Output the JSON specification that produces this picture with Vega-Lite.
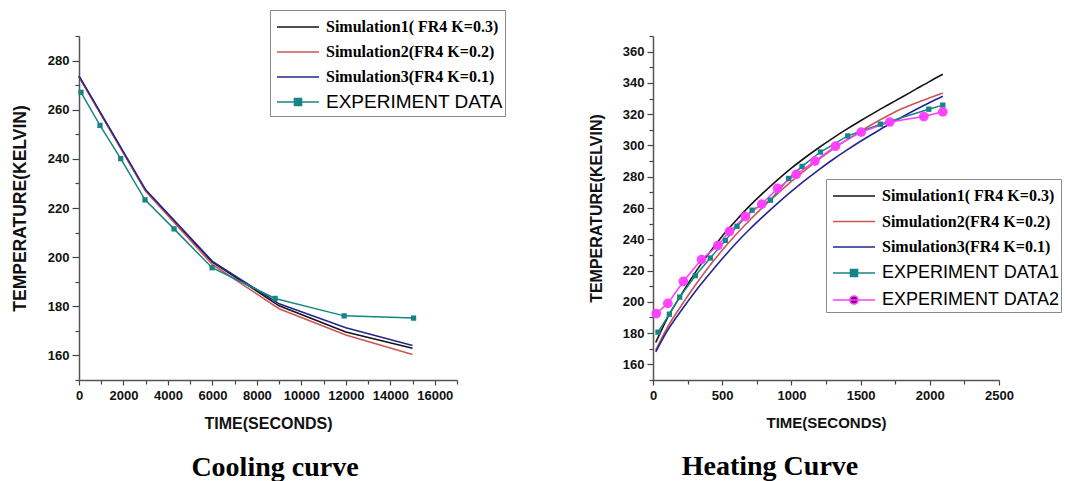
{
  "$schema": "https://vega.github.io/schema/vega-lite/v6.json",
  "padding": {"left": 11, "top": 9, "right": 0, "bottom": 0},
  "spacing": 196,
  "bounds": "flush",
  "datasets": {
    "cool": [
      {"kind": "sim", "series": "Simulation1( FR4 K=0.3)", "t": 0, "T": 273.5},
      {"kind": "sim", "series": "Simulation1( FR4 K=0.3)", "t": 3000, "T": 227.0},
      {"kind": "sim", "series": "Simulation1( FR4 K=0.3)", "t": 6000, "T": 198.0},
      {"kind": "sim", "series": "Simulation1( FR4 K=0.3)", "t": 9000, "T": 180.2},
      {"kind": "sim", "series": "Simulation1( FR4 K=0.3)", "t": 12000, "T": 169.5},
      {"kind": "sim", "series": "Simulation1( FR4 K=0.3)", "t": 15000, "T": 162.9},
      {"kind": "sim", "series": "Simulation2(FR4 K=0.2)", "t": 0, "T": 273.5},
      {"kind": "sim", "series": "Simulation2(FR4 K=0.2)", "t": 3000, "T": 226.8},
      {"kind": "sim", "series": "Simulation2(FR4 K=0.2)", "t": 6000, "T": 197.0},
      {"kind": "sim", "series": "Simulation2(FR4 K=0.2)", "t": 9000, "T": 179.0},
      {"kind": "sim", "series": "Simulation2(FR4 K=0.2)", "t": 12000, "T": 168.3},
      {"kind": "sim", "series": "Simulation2(FR4 K=0.2)", "t": 15000, "T": 160.4},
      {"kind": "sim", "series": "Simulation3(FR4 K=0.1)", "t": 0, "T": 273.8},
      {"kind": "sim", "series": "Simulation3(FR4 K=0.1)", "t": 3000, "T": 227.4},
      {"kind": "sim", "series": "Simulation3(FR4 K=0.1)", "t": 6000, "T": 198.3},
      {"kind": "sim", "series": "Simulation3(FR4 K=0.1)", "t": 9000, "T": 181.0},
      {"kind": "sim", "series": "Simulation3(FR4 K=0.1)", "t": 12000, "T": 171.3},
      {"kind": "sim", "series": "Simulation3(FR4 K=0.1)", "t": 15000, "T": 164.0},
      {"kind": "exp", "series": "EXPERIMENT DATA", "t": 90, "T": 267.1},
      {"kind": "exp", "series": "EXPERIMENT DATA", "t": 945, "T": 253.6},
      {"kind": "exp", "series": "EXPERIMENT DATA", "t": 1875, "T": 240.1},
      {"kind": "exp", "series": "EXPERIMENT DATA", "t": 2970, "T": 223.3},
      {"kind": "exp", "series": "EXPERIMENT DATA", "t": 4275, "T": 211.5},
      {"kind": "exp", "series": "EXPERIMENT DATA", "t": 5985, "T": 195.7},
      {"kind": "exp", "series": "EXPERIMENT DATA", "t": 8820, "T": 183.2},
      {"kind": "exp", "series": "EXPERIMENT DATA", "t": 11925, "T": 176.1},
      {"kind": "exp", "series": "EXPERIMENT DATA", "t": 15045, "T": 175.2}
    ],
    "heat": [
      {"kind": "sim", "series": "Simulation1( FR4 K=0.3)", "t": 20, "T": 174},
      {"kind": "sim", "series": "Simulation1( FR4 K=0.3)", "t": 100, "T": 189},
      {"kind": "sim", "series": "Simulation1( FR4 K=0.3)", "t": 200, "T": 204},
      {"kind": "sim", "series": "Simulation1( FR4 K=0.3)", "t": 300, "T": 218},
      {"kind": "sim", "series": "Simulation1( FR4 K=0.3)", "t": 400, "T": 230.5},
      {"kind": "sim", "series": "Simulation1( FR4 K=0.3)", "t": 500, "T": 242},
      {"kind": "sim", "series": "Simulation1( FR4 K=0.3)", "t": 600, "T": 252},
      {"kind": "sim", "series": "Simulation1( FR4 K=0.3)", "t": 700, "T": 261.5},
      {"kind": "sim", "series": "Simulation1( FR4 K=0.3)", "t": 800, "T": 270},
      {"kind": "sim", "series": "Simulation1( FR4 K=0.3)", "t": 900, "T": 278},
      {"kind": "sim", "series": "Simulation1( FR4 K=0.3)", "t": 1000, "T": 285.5},
      {"kind": "sim", "series": "Simulation1( FR4 K=0.3)", "t": 1100, "T": 292.3},
      {"kind": "sim", "series": "Simulation1( FR4 K=0.3)", "t": 1200, "T": 298.7},
      {"kind": "sim", "series": "Simulation1( FR4 K=0.3)", "t": 1300, "T": 304.7},
      {"kind": "sim", "series": "Simulation1( FR4 K=0.3)", "t": 1400, "T": 310.4},
      {"kind": "sim", "series": "Simulation1( FR4 K=0.3)", "t": 1500, "T": 315.8},
      {"kind": "sim", "series": "Simulation1( FR4 K=0.3)", "t": 1600, "T": 321},
      {"kind": "sim", "series": "Simulation1( FR4 K=0.3)", "t": 1700, "T": 326},
      {"kind": "sim", "series": "Simulation1( FR4 K=0.3)", "t": 1800, "T": 331},
      {"kind": "sim", "series": "Simulation1( FR4 K=0.3)", "t": 1900, "T": 336},
      {"kind": "sim", "series": "Simulation1( FR4 K=0.3)", "t": 2000, "T": 341},
      {"kind": "sim", "series": "Simulation1( FR4 K=0.3)", "t": 2094, "T": 345.5},
      {"kind": "sim", "series": "Simulation2(FR4 K=0.2)", "t": 20, "T": 169},
      {"kind": "sim", "series": "Simulation2(FR4 K=0.2)", "t": 100, "T": 183},
      {"kind": "sim", "series": "Simulation2(FR4 K=0.2)", "t": 200, "T": 197},
      {"kind": "sim", "series": "Simulation2(FR4 K=0.2)", "t": 300, "T": 210},
      {"kind": "sim", "series": "Simulation2(FR4 K=0.2)", "t": 400, "T": 222},
      {"kind": "sim", "series": "Simulation2(FR4 K=0.2)", "t": 500, "T": 233},
      {"kind": "sim", "series": "Simulation2(FR4 K=0.2)", "t": 600, "T": 243},
      {"kind": "sim", "series": "Simulation2(FR4 K=0.2)", "t": 700, "T": 252.3},
      {"kind": "sim", "series": "Simulation2(FR4 K=0.2)", "t": 800, "T": 261},
      {"kind": "sim", "series": "Simulation2(FR4 K=0.2)", "t": 900, "T": 269.2},
      {"kind": "sim", "series": "Simulation2(FR4 K=0.2)", "t": 1000, "T": 277},
      {"kind": "sim", "series": "Simulation2(FR4 K=0.2)", "t": 1100, "T": 284.3},
      {"kind": "sim", "series": "Simulation2(FR4 K=0.2)", "t": 1200, "T": 291.2},
      {"kind": "sim", "series": "Simulation2(FR4 K=0.2)", "t": 1300, "T": 297.6},
      {"kind": "sim", "series": "Simulation2(FR4 K=0.2)", "t": 1400, "T": 303.6},
      {"kind": "sim", "series": "Simulation2(FR4 K=0.2)", "t": 1500, "T": 309.2},
      {"kind": "sim", "series": "Simulation2(FR4 K=0.2)", "t": 1600, "T": 314.4},
      {"kind": "sim", "series": "Simulation2(FR4 K=0.2)", "t": 1700, "T": 319.2},
      {"kind": "sim", "series": "Simulation2(FR4 K=0.2)", "t": 1800, "T": 323.6},
      {"kind": "sim", "series": "Simulation2(FR4 K=0.2)", "t": 1900, "T": 327.2},
      {"kind": "sim", "series": "Simulation2(FR4 K=0.2)", "t": 2000, "T": 330.5},
      {"kind": "sim", "series": "Simulation2(FR4 K=0.2)", "t": 2094, "T": 333.5},
      {"kind": "sim", "series": "Simulation3(FR4 K=0.1)", "t": 20, "T": 168},
      {"kind": "sim", "series": "Simulation3(FR4 K=0.1)", "t": 100, "T": 181},
      {"kind": "sim", "series": "Simulation3(FR4 K=0.1)", "t": 200, "T": 194},
      {"kind": "sim", "series": "Simulation3(FR4 K=0.1)", "t": 300, "T": 206},
      {"kind": "sim", "series": "Simulation3(FR4 K=0.1)", "t": 400, "T": 217},
      {"kind": "sim", "series": "Simulation3(FR4 K=0.1)", "t": 500, "T": 227.5},
      {"kind": "sim", "series": "Simulation3(FR4 K=0.1)", "t": 600, "T": 237.5},
      {"kind": "sim", "series": "Simulation3(FR4 K=0.1)", "t": 700, "T": 246.6},
      {"kind": "sim", "series": "Simulation3(FR4 K=0.1)", "t": 800, "T": 255},
      {"kind": "sim", "series": "Simulation3(FR4 K=0.1)", "t": 900, "T": 263},
      {"kind": "sim", "series": "Simulation3(FR4 K=0.1)", "t": 1000, "T": 270.6},
      {"kind": "sim", "series": "Simulation3(FR4 K=0.1)", "t": 1100, "T": 277.8},
      {"kind": "sim", "series": "Simulation3(FR4 K=0.1)", "t": 1200, "T": 284.6},
      {"kind": "sim", "series": "Simulation3(FR4 K=0.1)", "t": 1300, "T": 291},
      {"kind": "sim", "series": "Simulation3(FR4 K=0.1)", "t": 1400, "T": 297},
      {"kind": "sim", "series": "Simulation3(FR4 K=0.1)", "t": 1500, "T": 302.7},
      {"kind": "sim", "series": "Simulation3(FR4 K=0.1)", "t": 1600, "T": 308},
      {"kind": "sim", "series": "Simulation3(FR4 K=0.1)", "t": 1700, "T": 313.2},
      {"kind": "sim", "series": "Simulation3(FR4 K=0.1)", "t": 1800, "T": 318.2},
      {"kind": "sim", "series": "Simulation3(FR4 K=0.1)", "t": 1900, "T": 323},
      {"kind": "sim", "series": "Simulation3(FR4 K=0.1)", "t": 2000, "T": 327.5},
      {"kind": "sim", "series": "Simulation3(FR4 K=0.1)", "t": 2094, "T": 331.5},
      {"kind": "exp", "series": "EXPERIMENT DATA1", "t": 36, "T": 180.6},
      {"kind": "exp", "series": "EXPERIMENT DATA1", "t": 118, "T": 192.1},
      {"kind": "exp", "series": "EXPERIMENT DATA1", "t": 193, "T": 203.0},
      {"kind": "exp", "series": "EXPERIMENT DATA1", "t": 306, "T": 216.7},
      {"kind": "exp", "series": "EXPERIMENT DATA1", "t": 414, "T": 228.0},
      {"kind": "exp", "series": "EXPERIMENT DATA1", "t": 523, "T": 239.3},
      {"kind": "exp", "series": "EXPERIMENT DATA1", "t": 607, "T": 248.3},
      {"kind": "exp", "series": "EXPERIMENT DATA1", "t": 716, "T": 258.6},
      {"kind": "exp", "series": "EXPERIMENT DATA1", "t": 848, "T": 265.0},
      {"kind": "exp", "series": "EXPERIMENT DATA1", "t": 980, "T": 278.9},
      {"kind": "exp", "series": "EXPERIMENT DATA1", "t": 1077, "T": 286.6},
      {"kind": "exp", "series": "EXPERIMENT DATA1", "t": 1210, "T": 295.8},
      {"kind": "exp", "series": "EXPERIMENT DATA1", "t": 1407, "T": 306.1},
      {"kind": "exp", "series": "EXPERIMENT DATA1", "t": 1643, "T": 313.6},
      {"kind": "exp", "series": "EXPERIMENT DATA1", "t": 1993, "T": 323.2},
      {"kind": "exp", "series": "EXPERIMENT DATA1", "t": 2094, "T": 325.8},
      {"kind": "exp", "series": "EXPERIMENT DATA2", "t": 24, "T": 192.5},
      {"kind": "exp", "series": "EXPERIMENT DATA2", "t": 107, "T": 199.0},
      {"kind": "exp", "series": "EXPERIMENT DATA2", "t": 219, "T": 213.0},
      {"kind": "exp", "series": "EXPERIMENT DATA2", "t": 350, "T": 227.0},
      {"kind": "exp", "series": "EXPERIMENT DATA2", "t": 469, "T": 236.0},
      {"kind": "exp", "series": "EXPERIMENT DATA2", "t": 552, "T": 245.0},
      {"kind": "exp", "series": "EXPERIMENT DATA2", "t": 667, "T": 254.5},
      {"kind": "exp", "series": "EXPERIMENT DATA2", "t": 786, "T": 262.5},
      {"kind": "exp", "series": "EXPERIMENT DATA2", "t": 900, "T": 272.5},
      {"kind": "exp", "series": "EXPERIMENT DATA2", "t": 1035, "T": 281.5},
      {"kind": "exp", "series": "EXPERIMENT DATA2", "t": 1170, "T": 290.0},
      {"kind": "exp", "series": "EXPERIMENT DATA2", "t": 1318, "T": 299.5},
      {"kind": "exp", "series": "EXPERIMENT DATA2", "t": 1504, "T": 308.5},
      {"kind": "exp", "series": "EXPERIMENT DATA2", "t": 1711, "T": 315.0},
      {"kind": "exp", "series": "EXPERIMENT DATA2", "t": 1957, "T": 318.5},
      {"kind": "exp", "series": "EXPERIMENT DATA2", "t": 2094, "T": 321.5}
    ]
  },
  "hconcat": [
    {
      "width": 378,
      "height": 344,
      "data": {"name": "cool"},
      "title": {"text": "Cooling curve", "orient": "bottom", "anchor": "middle", "dx": 7, "offset": 23, "font": "Liberation Serif", "fontSize": 28, "fontWeight": "bold", "color": "#000000"},
      "encoding": {
        "x": {"field": "t", "type": "quantitative", "scale": {"domain": [0, 17000], "nice": false},
          "axis": {"title": "TIME(SECONDS)", "format": "d", "values": [0,1000,2000,3000,4000,5000,6000,7000,8000,9000,10000,11000,12000,13000,14000,15000,16000,17000],
            "labelExpr": "datum.value % 2000 == 0 ? datum.label : ''",
            "tickSize": {"condition": {"test": "datum.value % 2000 == 0", "value": 5}, "value": 4},
            "labelPadding": 4, "titlePadding": 13, "titleFontSize": 16, "labelFontSize": 13}},
        "y": {"field": "T", "type": "quantitative", "scale": {"domain": [150, 290], "nice": false, "zero": false},
          "axis": {"title": "TEMPERATURE(KELVIN)", "values": [150,160,170,180,190,200,210,220,230,240,250,260,270,280,290],
            "labelExpr": "datum.value % 20 == 0 ? datum.label : ''",
            "tickSize": {"condition": {"test": "datum.value % 20 == 0", "value": 7}, "value": 4},
            "labelPadding": 3, "titlePadding": 18, "titleFontSize": 17.5, "labelFontSize": 13}}
      },
      "layer": [
        {
          "transform": [{"filter": "datum.kind == 'sim'"}],
          "mark": {"type": "line", "strokeWidth": 1.6},
          "encoding": {
            "color": {"field": "series", "type": "nominal",
              "scale": {"domain": ["Simulation1( FR4 K=0.3)", "Simulation2(FR4 K=0.2)", "Simulation3(FR4 K=0.1)", " "],
                "range": ["#151515", "#cc5555", "#25258f", "transparent"]},
              "legend": {"orient": "none", "legendX": 191, "legendY": -26, "title": null, "strokeColor": "#8a8a8a", "padding": 6,
                "symbolType": "M-2.1,0L2.1,0", "symbolSize": 400, "symbolOffset": 11, "symbolStrokeWidth": 1.6, "labelFont": "Liberation Serif", "labelFontWeight": "bold",
                "labelFontSize": 16, "labelColor": "#000000", "labelOffset": 17, "labelLimit": 400, "rowPadding": 6}}
          }
        },
        {
          "transform": [{"filter": "datum.kind == 'none'"}],
          "mark": {"type": "point", "filled": true},
          "encoding": {
            "fill": {"field": "series", "type": "nominal", "scale": {"domain": ["EXPERIMENT DATA"], "range": ["#178585"]},
              "legend": {"orient": "none", "legendX": 191, "legendY": 49, "title": null, "padding": 6, "symbolSize": 400, "symbolOffset": 11, "symbolStrokeWidth": 1.6, "symbolOpacity": 1,
                "labelFont": "Liberation Sans", "labelFontSize": 19, "labelColor": "#000000", "labelOffset": 17, "labelLimit": 400}},
            "stroke": {"field": "series", "type": "nominal", "scale": {"domain": ["EXPERIMENT DATA"], "range": ["#178585"]},
              "legend": {"orient": "none", "legendX": 191, "legendY": 49, "title": null, "padding": 6, "symbolSize": 400, "symbolOffset": 11, "symbolStrokeWidth": 1.6, "symbolOpacity": 1,
                "labelFont": "Liberation Sans", "labelFontSize": 19, "labelColor": "#000000", "labelOffset": 17, "labelLimit": 400}},
            "shape": {"field": "series", "type": "nominal", "scale": {"domain": ["EXPERIMENT DATA"], "range": ["M-2.1,0L2.1,0M-0.35,-0.35L0.35,-0.35L0.35,0.35L-0.35,0.35Z"]},
              "legend": {"orient": "none", "legendX": 191, "legendY": 49, "title": null, "padding": 6, "symbolSize": 400, "symbolOffset": 11, "symbolStrokeWidth": 1.6, "symbolOpacity": 1,
                "labelFont": "Liberation Sans", "labelFontSize": 19, "labelColor": "#000000", "labelOffset": 17, "labelLimit": 400}}
          }
        },
        {
          "transform": [{"filter": "datum.kind == 'exp'"}],
          "mark": {"type": "line", "strokeWidth": 1.5},
          "encoding": {"color": {"field": "series", "type": "nominal", "scale": {"domain": ["EXPERIMENT DATA"], "range": ["#178585"]}, "legend": null}}
        },
        {
          "transform": [{"filter": "datum.kind == 'exp'"}],
          "mark": {"type": "point", "shape": "square", "filled": true, "size": 28, "opacity": 1},
          "encoding": {"color": {"field": "series", "type": "nominal", "scale": {"domain": ["EXPERIMENT DATA"], "range": ["#178585"]}, "legend": null}}
        }
      ],
      "resolve": {"scale": {"color": "independent", "fill": "independent", "stroke": "independent", "shape": "independent"},
                  "legend": {"color": "independent", "fill": "independent", "stroke": "independent", "shape": "independent"}}
    },
    {
      "width": 346,
      "height": 344,
      "data": {"name": "heat"},
      "title": {"text": "Heating Curve", "orient": "bottom", "anchor": "middle", "dx": -56, "offset": 23, "font": "Liberation Serif", "fontSize": 28, "fontWeight": "bold", "color": "#000000"},
      "encoding": {
        "x": {"field": "t", "type": "quantitative", "scale": {"domain": [0, 2500], "nice": false},
          "axis": {"title": "TIME(SECONDS)", "format": "d", "values": [0,250,500,750,1000,1250,1500,1750,2000,2250,2500],
            "labelExpr": "datum.value % 500 == 0 ? datum.label : ''",
            "tickSize": {"condition": {"test": "datum.value % 500 == 0", "value": 5}, "value": 4},
            "labelPadding": 4, "titlePadding": 13, "titleFontSize": 15, "labelFontSize": 13}},
        "y": {"field": "T", "type": "quantitative", "scale": {"domain": [150, 370], "nice": false, "zero": false},
          "axis": {"title": "TEMPERATURE(KELVIN)", "values": [150,160,170,180,190,200,210,220,230,240,250,260,270,280,290,300,310,320,330,340,350,360,370],
            "labelExpr": "datum.value % 20 == 0 ? datum.label : ''",
            "tickSize": {"condition": {"test": "datum.value % 20 == 0", "value": 6}, "value": 4},
            "labelPadding": 3, "titlePadding": 18, "titleFontSize": 16, "labelFontSize": 13}}
      },
      "layer": [
        {
          "transform": [{"filter": "datum.kind == 'sim'"}],
          "mark": {"type": "line", "strokeWidth": 1.6, "interpolate": "monotone"},
          "encoding": {
            "color": {"field": "series", "type": "nominal",
              "scale": {"domain": ["Simulation1( FR4 K=0.3)", "Simulation2(FR4 K=0.2)", "Simulation3(FR4 K=0.1)", " ", "  "],
                "range": ["#151515", "#cc5555", "#25258f", "transparent", "transparent"]},
              "legend": {"orient": "none", "legendX": 173, "legendY": 143, "title": null, "strokeColor": "#8a8a8a", "padding": 6,
                "symbolType": "M-2.1,0L2.1,0", "symbolSize": 400, "symbolOffset": 11, "symbolStrokeWidth": 1.6, "labelFont": "Liberation Serif", "labelFontWeight": "bold",
                "labelFontSize": 16, "labelColor": "#000000", "labelOffset": 17, "labelLimit": 400, "rowPadding": 6.5}}
          }
        },
        {
          "transform": [{"filter": "datum.kind == 'none'"}],
          "mark": {"type": "point", "filled": true},
          "encoding": {
            "fill": {"field": "series", "type": "nominal", "scale": {"domain": ["EXPERIMENT DATA1", "EXPERIMENT DATA2"], "range": ["#178585", "#7a0a7a"]},
              "legend": {"orient": "none", "legendX": 173, "legendY": 220, "title": null, "padding": 6, "symbolSize": 400, "symbolOffset": 11, "symbolStrokeWidth": 1.6, "symbolOpacity": 1,
                "labelFont": "Liberation Sans", "labelFontSize": 18, "labelColor": "#000000", "labelOffset": 17, "labelLimit": 400, "rowPadding": 7}},
            "stroke": {"field": "series", "type": "nominal", "scale": {"domain": ["EXPERIMENT DATA1", "EXPERIMENT DATA2"], "range": ["#178585", "#ff3cff"]},
              "legend": {"orient": "none", "legendX": 173, "legendY": 220, "title": null, "padding": 6, "symbolSize": 400, "symbolOffset": 11, "symbolStrokeWidth": 1.6, "symbolOpacity": 1,
                "labelFont": "Liberation Sans", "labelFontSize": 18, "labelColor": "#000000", "labelOffset": 17, "labelLimit": 400, "rowPadding": 7}},
            "shape": {"field": "series", "type": "nominal", "scale": {"domain": ["EXPERIMENT DATA1", "EXPERIMENT DATA2"], "range": ["M-2.1,0L2.1,0M-0.35,-0.35L0.35,-0.35L0.35,0.35L-0.35,0.35Z", "M-2.1,0L2.1,0M-0.4,0A0.4,0.4 0 1,0 0.4,0A0.4,0.4 0 1,0 -0.4,0Z"]},
              "legend": {"orient": "none", "legendX": 173, "legendY": 220, "title": null, "padding": 6, "symbolSize": 400, "symbolOffset": 11, "symbolStrokeWidth": 1.6, "symbolOpacity": 1,
                "labelFont": "Liberation Sans", "labelFontSize": 18, "labelColor": "#000000", "labelOffset": 17, "labelLimit": 400, "rowPadding": 7}}
          }
        },
        {
          "transform": [{"filter": "datum.kind == 'exp'"}],
          "mark": {"type": "line", "strokeWidth": 1.5},
          "encoding": {"color": {"field": "series", "type": "nominal", "scale": {"domain": ["EXPERIMENT DATA1", "EXPERIMENT DATA2"], "range": ["#178585", "#ff3cff"]}, "legend": null}}
        },
        {
          "transform": [{"filter": "datum.series == 'EXPERIMENT DATA1'"}],
          "mark": {"type": "point", "shape": "square", "filled": true, "size": 28, "opacity": 1},
          "encoding": {"color": {"field": "series", "type": "nominal", "scale": {"domain": ["EXPERIMENT DATA1"], "range": ["#178585"]}, "legend": null}}
        },
        {
          "transform": [{"filter": "datum.series == 'EXPERIMENT DATA2'"}],
          "mark": {"type": "point", "shape": "circle", "filled": true, "size": 95, "opacity": 0.95},
          "encoding": {"color": {"field": "series", "type": "nominal", "scale": {"domain": ["EXPERIMENT DATA2"], "range": ["#ff3cff"]}, "legend": null}}
        }
      ],
      "resolve": {"scale": {"color": "independent", "fill": "independent", "stroke": "independent", "shape": "independent"},
                  "legend": {"color": "independent", "fill": "independent", "stroke": "independent", "shape": "independent"}}
    }
  ],
  "config": {
    "background": "#ffffff",
    "view": {"stroke": null},
    "axis": {"grid": false, "domainColor": "#555555", "domainWidth": 1.5, "tickColor": "#444444", "tickWidth": 1.2,
      "labelFont": "Liberation Sans", "labelFontWeight": "bold", "labelColor": "#111111", "labelOverlap": false, "labelFlush": false,
      "titleFont": "Liberation Sans", "titleFontWeight": "bold", "titleColor": "#111111"},
    "legend": {"labelOverlap": false}
  }
}
